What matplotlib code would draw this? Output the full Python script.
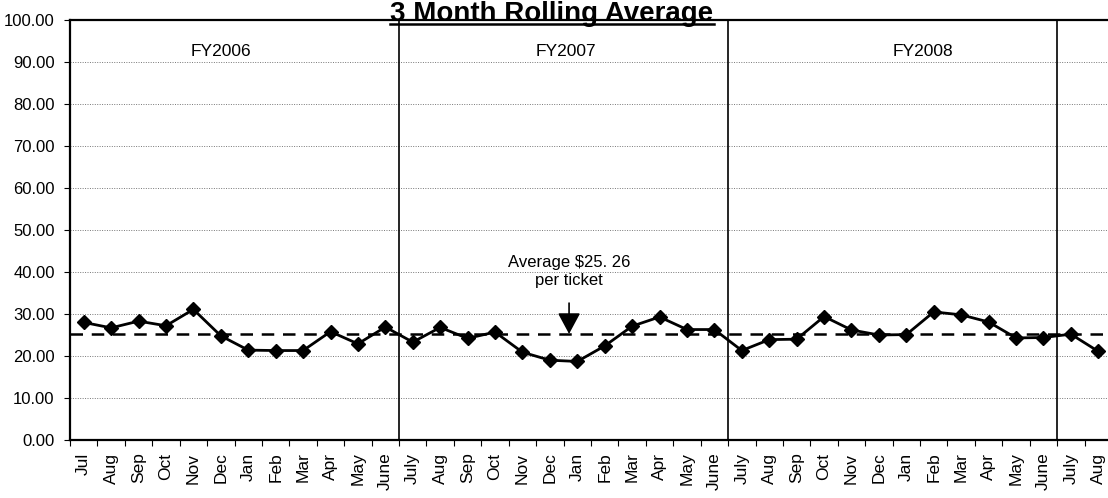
import matplotlib

matplotlib.use("Agg")
import matplotlib.pyplot as plt
from matplotlib.lines import Line2D
from matplotlib.ticker import FixedLocator, FormatStrFormatter, MultipleLocator

plt.rcParams["font.family"] = ["Liberation Sans", "DejaVu Sans"]

# month labels, fiscal years run July..June
MONTHS = ["Jul", "Aug", "Sep", "Oct", "Nov", "Dec", "Jan", "Feb", "Mar", "Apr", "May", "June",
          "July", "Aug", "Sep", "Oct", "Nov", "Dec", "Jan", "Feb", "Mar", "Apr", "May", "June",
          "July", "Aug", "Sep", "Oct", "Nov", "Dec", "Jan", "Feb", "Mar", "Apr", "May", "June",
          "July", "Aug"]

FY2006 = [28.0, 26.7, 28.3, 27.2, 31.1, 24.8, 21.4, 21.3, 21.3, 25.8, 22.9, 26.9]
FY2007 = [23.3, 26.8, 24.2, 25.7, 20.9, 19.0, 18.7, 22.4, 27.1, 29.3, 26.3, 26.3]
FY2008 = [21.3, 23.9, 24.0, 29.4, 26.2, 25.0, 25.1, 30.5, 29.8, 28.1, 24.3, 24.4]
FY2009 = [25.2, 21.1]
VALUES = FY2006 + FY2007 + FY2008 + FY2009

AVERAGE = 25.26
FY_LABELS = ["FY2006", "FY2007", "FY2008"]
FY_LABEL_POS = [5.0, 17.6, 30.6]
YEAR_BREAKS = [11.5, 23.5, 35.5]

W, H = 1108, 498
fig = plt.figure(figsize=(W / 100, H / 100), dpi=100)
ax = fig.add_axes([70 / W, 1 - 440 / H, (1112 - 70) / W, 420 / H])

x = list(range(len(VALUES)))
ax.set_xlim(-0.5, len(VALUES) - 0.5)
ax.set_ylim(0, 100)

ax.yaxis.set_major_locator(MultipleLocator(10))
ax.yaxis.set_major_formatter(FormatStrFormatter("%.2f"))
ax.grid(axis="y", color="#777777", linestyle=(0, (1, 1.5)), linewidth=0.7)
ax.set_axisbelow(True)

ax.xaxis.set_major_locator(FixedLocator(x))
ax.set_xticklabels(MONTHS, rotation=90, fontsize=12.5)
ax.xaxis.set_minor_locator(FixedLocator([i - 0.5 for i in range(len(VALUES) + 1)]))
ax.tick_params(axis="x", which="major", length=0, pad=9)
ax.tick_params(axis="x", which="minor", length=4, width=0.8, direction="out")
ax.tick_params(axis="y", length=4, width=0.8, labelsize=12, pad=7)

for s in ("left", "top", "bottom"):
    ax.spines[s].set_linewidth(1.6)
ax.spines["right"].set_visible(False)

for xb in YEAR_BREAKS:
    ax.axvline(xb, color="black", linewidth=1.2)

ax.axhline(AVERAGE, color="black", linestyle=(0, (5, 3.5)), linewidth=1.8)
ax.plot(x, VALUES, color="black", linewidth=2, marker="D", markersize=7)

for lbl, xp in zip(FY_LABELS, FY_LABEL_POS):
    ax.text(xp, 90.8, lbl, ha="center", va="bottom", fontsize=12.5)

ax.text(17.7, 40.0, "Average \\$25. 26\nper ticket", ha="center", va="center",
        fontsize=12, linespacing=1.25)
ax.annotate("", xy=(17.7, AVERAGE), xytext=(17.7, 32.6),
            arrowprops=dict(arrowstyle="-|>,head_length=1.3,head_width=0.7",
                            color="black", lw=1.2, shrinkA=0, shrinkB=0))

title = fig.text(552 / W, 1 - 21 / H, "3 Month Rolling Average", ha="center",
                 va="baseline", fontsize=20, fontweight="bold")
fig.canvas.draw()
bb = title.get_window_extent()
uy = (H - 24) / H
fig.add_artist(Line2D([bb.x0 / W, bb.x1 / W], [uy, uy], color="black", linewidth=1.8,
                      transform=fig.transFigure))

fig.savefig("out.png", dpi=100)
